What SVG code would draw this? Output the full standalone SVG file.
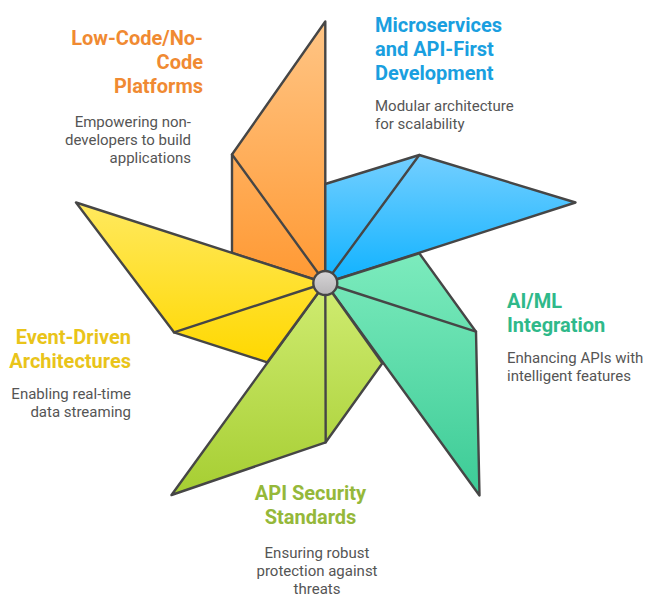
<svg xmlns="http://www.w3.org/2000/svg" width="654" height="602" viewBox="0 0 654 602">
<style>
.blade{stroke:#464646;stroke-width:2.4;stroke-linejoin:round;stroke-linecap:round}
.crease{fill:none;stroke:#464646;stroke-width:2.4;stroke-linecap:round}
text{font-family:Roboto,"Liberation Sans",sans-serif}
.h{font-size:20px;font-weight:700}
.b{font-size:15px;fill:#555555}
</style>
<defs>
<linearGradient id="gOrange" gradientUnits="userSpaceOnUse" x1="0" y1="21" x2="0" y2="283"><stop offset="0" stop-color="#FFC585"/><stop offset="1" stop-color="#FF9933"/></linearGradient>
<linearGradient id="gBlue" gradientUnits="userSpaceOnUse" x1="0" y1="155" x2="0" y2="283"><stop offset="0" stop-color="#74CFFF"/><stop offset="1" stop-color="#0FB2FF"/></linearGradient>
<linearGradient id="gGreen" gradientUnits="userSpaceOnUse" x1="0" y1="253" x2="0" y2="496"><stop offset="0" stop-color="#7CEBBD"/><stop offset="1" stop-color="#3CCB96"/></linearGradient>
<linearGradient id="gLime" gradientUnits="userSpaceOnUse" x1="0" y1="283" x2="0" y2="495"><stop offset="0" stop-color="#D0EC72"/><stop offset="1" stop-color="#A6CE32"/></linearGradient>
<linearGradient id="gYellow" gradientUnits="userSpaceOnUse" x1="0" y1="202" x2="0" y2="362"><stop offset="0" stop-color="#FFE95F"/><stop offset="1" stop-color="#FFD800"/></linearGradient>
<linearGradient id="gHub" x1="0" y1="0" x2="0" y2="1"><stop offset="0" stop-color="#D6D4D6"/><stop offset="1" stop-color="#B8B6B8"/></linearGradient>
</defs>
<g id="node-orange">
<path class="blade" fill="url(#gOrange)" d="M325.3 21.5L232 154.5L232 253L325.3 283Z"/>
<path class="crease" d="M232 154.5L325.3 283"/>
</g>
<g id="node-blue">
<path class="blade" fill="url(#gBlue)" d="M325.3 184L419.3 155L575.5 202.5L325.3 283Z"/>
<path class="crease" d="M419.3 155L325.3 283"/>
</g>
<g id="node-green">
<path class="blade" fill="url(#gGreen)" d="M419.3 253.3L476 331.7L479.5 495.5L325.3 283Z"/>
<path class="crease" d="M476 331.7L325.3 283"/>
</g>
<g id="node-lime">
<path class="blade" fill="url(#gLime)" d="M382.3 363.3L325.7 442.3L171.5 495L325.3 283Z"/>
<path class="crease" d="M325.7 442.3L325.3 283"/>
</g>
<g id="node-yellow">
<path class="blade" fill="url(#gYellow)" d="M267.3 362.3L174 332.3L76 202.5L325.3 283Z"/>
<path class="crease" d="M174 332.3L325.3 283"/>
</g>
<g id="hub">
<circle cx="325.3" cy="283" r="12" fill="url(#gHub)" stroke="#464646" stroke-width="2.4"/>
</g>
<g id="label-microservices">
<text class="h" fill="#1A9FE0" x="375" y="31.5">Microservices</text>
<text class="h" fill="#1A9FE0" x="375" y="55.5">and API-First</text>
<text class="h" fill="#1A9FE0" x="375" y="79.5">Development</text>
<text class="b" x="375" y="111">Modular architecture</text>
<text class="b" x="375" y="129">for scalability</text>
</g>
<g id="label-lowcode" text-anchor="end">
<text class="h" fill="#F08A32" x="203" y="44.5">Low-Code/No-</text>
<text class="h" fill="#F08A32" x="203" y="68.5">Code</text>
<text class="h" fill="#F08A32" x="203" y="92.5">Platforms</text>
<text class="b" x="191" y="127">Empowering non-</text>
<text class="b" x="191" y="145">developers to build</text>
<text class="b" x="191" y="163">applications</text>
</g>
<g id="label-aiml">
<text class="h" fill="#2FB98A" x="507" y="307.5">AI/ML</text>
<text class="h" fill="#2FB98A" x="507" y="331.5">Integration</text>
<text class="b" x="507" y="363">Enhancing APIs with</text>
<text class="b" x="507" y="381">intelligent features</text>
</g>
<g id="label-eventdriven" text-anchor="end">
<text class="h" fill="#E9C41A" x="131" y="343.5">Event-Driven</text>
<text class="h" fill="#E9C41A" x="131" y="367.5">Architectures</text>
<text class="b" x="131" y="399">Enabling real-time</text>
<text class="b" x="131" y="417">data streaming</text>
</g>
<g id="label-security" text-anchor="middle">
<text class="h" fill="#95B83A" x="310.5" y="499.5">API Security</text>
<text class="h" fill="#95B83A" x="310.5" y="523.5">Standards</text>
<text class="b" x="317" y="558">Ensuring robust</text>
<text class="b" x="317" y="576">protection against</text>
<text class="b" x="317" y="594">threats</text>
</g>
</svg>
